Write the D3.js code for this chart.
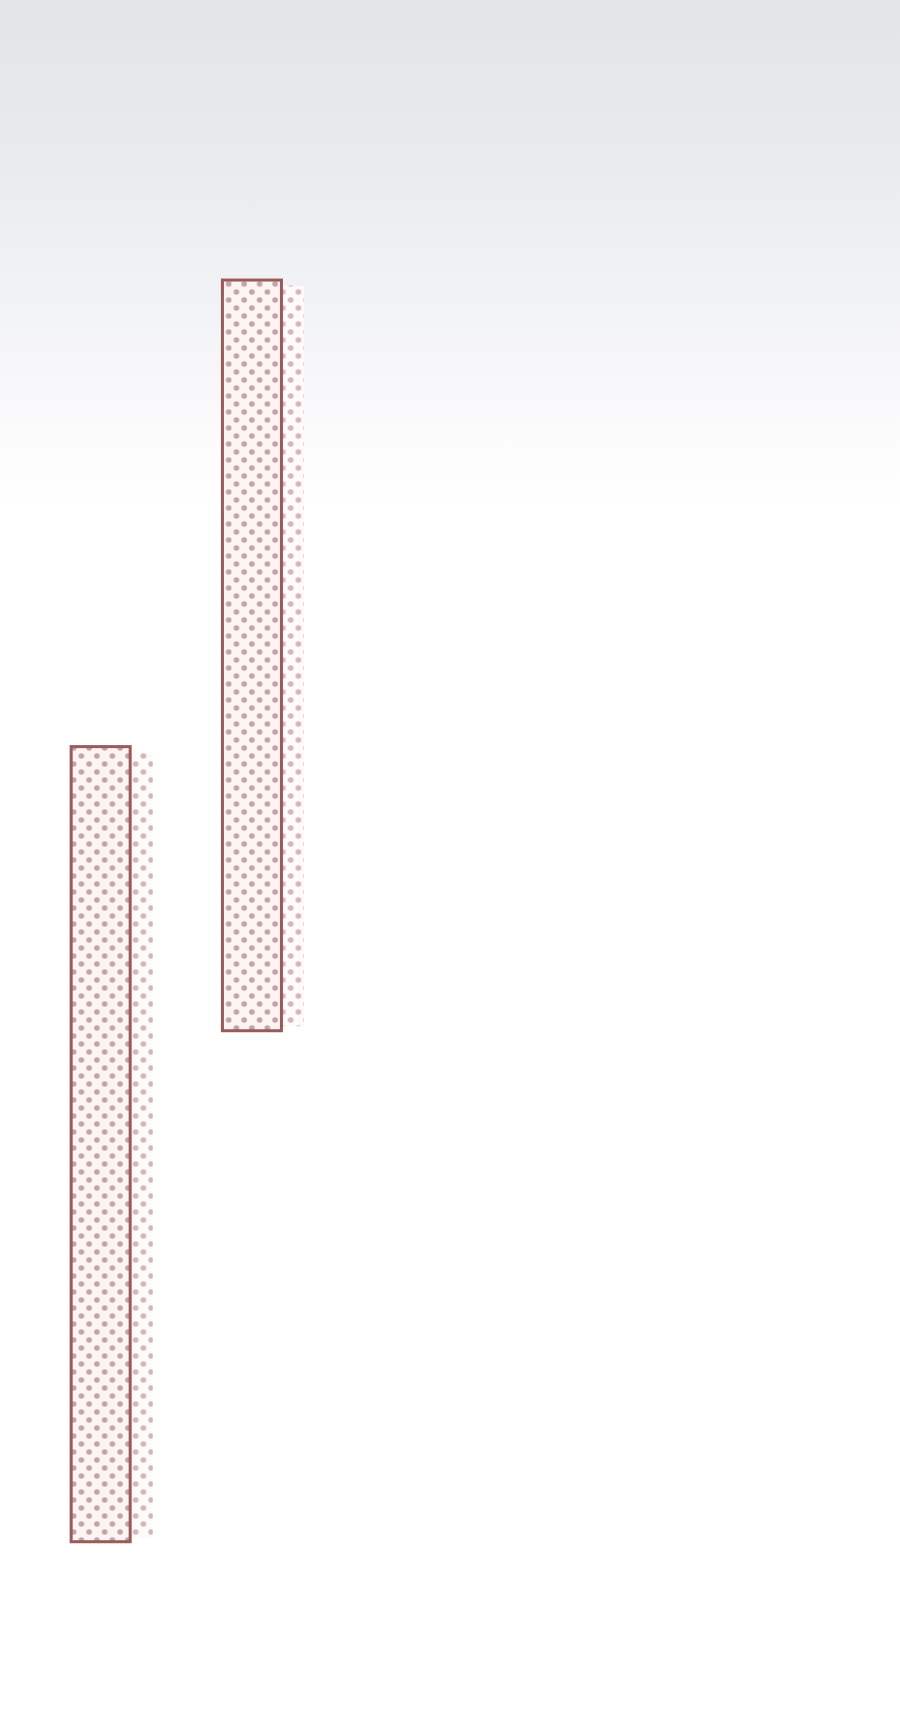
<!DOCTYPE html>
<html>
<head>
<meta charset="utf-8">
<script src="https://cdn.jsdelivr.net/npm/d3@7"></script>
<style>
  html, body { margin: 0; padding: 0; background: #ffffff; }
  svg { display: block; }
</style>
</head>
<body>
<div id="chart"></div>
<script>
// ---- data ----
const categories = ["A", "B"];
const lowValues  = [9.7, 39.6];
const highValues = [56.4, 83.7];

// ---- layout ----
const W = 900, H = 1709;
const svg = d3.select("#chart").append("svg").attr("width", W).attr("height", H);
const defs = svg.append("defs");

// background gradient
const bg = defs.append("linearGradient").attr("id", "bgGrad")
  .attr("x1", 0).attr("y1", 0).attr("x2", 0).attr("y2", 1);
[[0, "#e2e5e8"], [0.06, "#e6e9ec"], [0.12, "#ebeef0"], [0.18, "#f2f3f6"],
 [0.225, "#f8f8fa"], [0.26, "#fcfcfd"], [0.3, "#ffffff"], [1, "#ffffff"]]
  .forEach(([o, c]) => bg.append("stop").attr("offset", o).attr("stop-color", c));
svg.append("rect").attr("width", W).attr("height", H).attr("fill", "url(#bgGrad)");

// dot patterns
function dotPattern(id, bgColor, dotColor) {
  const p = defs.append("pattern").attr("id", id)
    .attr("patternUnits", "userSpaceOnUse").attr("width", 15.5).attr("height", 16);
  p.append("rect").attr("width", 15.5).attr("height", 16).attr("fill", bgColor);
  [[3.9, 4], [11.65, 12]].forEach(([cx, cy]) =>
    p.append("circle").attr("cx", cx).attr("cy", cy).attr("r", 2.8).attr("fill", dotColor));
}
dotPattern("dots", "#fcf4f2", "#c4a3a3");
dotPattern("dotsShadow", "#fefafa", "#d4b6b6");

// scales
const x = d3.scaleBand().domain(categories).range([0, 352.6])
  .paddingInner(0.59).paddingOuter(0.4605);
const y = d3.scaleLinear().domain([0, 100]).range([H, 0]);

const data = categories.map((c, i) => ({ c, lo: lowValues[i], hi: highValues[i] }));

// shadows
svg.append("g").selectAll("rect").data(data).join("rect")
  .attr("x", d => x(d.c) + 21)
  .attr("y", d => y(d.hi) + 7)
  .attr("width", x.bandwidth())
  .attr("height", d => y(d.lo) - y(d.hi) - 13)
  .attr("fill", "url(#dotsShadow)");

// bars
svg.append("g").selectAll("rect").data(data).join("rect")
  .attr("x", d => x(d.c) + 1.5)
  .attr("y", d => y(d.hi) + 1.5)
  .attr("width", x.bandwidth() - 3)
  .attr("height", d => y(d.lo) - y(d.hi) - 3)
  .attr("fill", "url(#dots)")
  .attr("stroke", "#985a5a")
  .attr("stroke-width", 3);
</script>
</body>
</html>
